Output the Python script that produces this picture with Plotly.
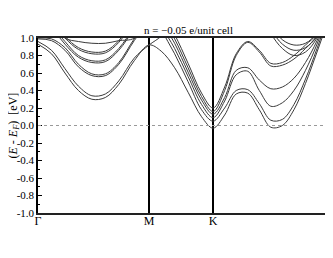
import plotly.graph_objects as go

# k-path positions (Gamma - M - K - Gamma), hexagonal BZ units
k_path = [0.0, 0.07, 0.14, 0.21, 0.28, 0.35, 0.42, 0.50, 0.577, 0.64, 0.71, 0.78, 0.85,
          0.91, 0.97, 1.03, 1.09, 1.15, 1.21, 1.27, 1.33, 1.39, 1.45, 1.51, 1.577]

sym_pos = [0.0, 0.577, 0.91]
sym_labels = ["Γ", "M", "K"]

y_ticks = [-1.0, -0.8, -0.6, -0.4, -0.2, 0.0, 0.2, 0.4, 0.6, 0.8, 1.0]
y_tick_labels = ["-1.0", "-0.8", "-0.6", "-0.4", "-0.2", "0.0", "0.2", "0.4", "0.6", "0.8", "1.0"]

# energies (eV), values > 1 are outside the window
band_1 = [0.93, 0.82, 0.60, 0.40, 0.30, 0.32, 0.47, 0.74, 0.92, 0.85, 0.66, 0.38, 0.10,
          -0.03, 0.12, 0.36, 0.37, 0.18, -0.02, 0.00, 0.18, 0.48, 0.84, 1.20, 1.50]
band_2 = [0.96, 0.86, 0.65, 0.45, 0.34, 0.36, 0.51, 0.77, 0.92, 1.02, 1.20, 1.40, 1.50,
          1.50, 1.50, 1.50, 1.50, 1.50, 1.50, 1.50, 1.50, 1.50, 1.50, 1.50, 1.50]
band_3 = [0.99, 0.97, 0.86, 0.67, 0.57, 0.57, 0.70, 0.97, 1.20, 1.40, 1.50, 1.50, 1.50,
          1.50, 1.50, 1.50, 1.50, 1.50, 1.50, 1.50, 1.50, 1.50, 1.50, 1.50, 1.50]
band_4 = [1.00, 0.99, 0.89, 0.70, 0.59, 0.59, 0.72, 0.99, 1.20, 1.40, 1.50, 1.50, 1.50,
          1.50, 1.50, 1.50, 1.50, 1.50, 1.50, 1.50, 1.50, 1.50, 1.50, 1.50, 1.50]
band_5 = [1.30, 1.12, 0.93, 0.78, 0.72, 0.73, 0.86, 1.10, 1.30, 1.50, 1.50, 1.50, 1.50,
          1.50, 1.50, 1.50, 1.50, 1.50, 1.50, 1.50, 1.50, 1.50, 1.50, 1.50, 1.50]
band_6 = [1.30, 1.14, 0.96, 0.80, 0.74, 0.75, 0.88, 1.12, 1.30, 1.50, 1.50, 1.50, 1.50,
          1.50, 1.50, 1.50, 1.50, 1.50, 1.50, 1.50, 1.50, 1.50, 1.50, 1.50, 1.50]
band_7 = [1.40, 1.20, 1.00, 0.87, 0.82, 0.83, 0.95, 1.20, 1.40, 1.50, 1.50, 1.50, 1.50,
          1.50, 1.50, 1.50, 1.50, 1.50, 1.50, 1.50, 1.50, 1.50, 1.50, 1.50, 1.50]
band_8 = [1.40, 1.22, 1.02, 0.89, 0.84, 0.85, 0.97, 1.22, 1.40, 1.50, 1.50, 1.50, 1.50,
          1.50, 1.50, 1.50, 1.50, 1.50, 1.50, 1.50, 1.50, 1.50, 1.50, 1.50, 1.50]
band_9 = [1.40, 1.20, 1.00, 0.96, 0.94, 0.94, 0.97, 1.00, 1.30, 1.50, 1.50, 1.50, 1.50,
          1.50, 1.50, 1.50, 1.50, 1.50, 1.50, 1.50, 1.50, 1.50, 1.50, 1.50, 1.50]
band_10 = [1.50, 1.50, 1.50, 1.50, 1.50, 1.50, 1.50, 1.50, 1.40, 1.10, 0.82, 0.50, 0.18,
           0.05, 0.20, 0.40, 0.41, 0.25, 0.06, 0.07, 0.24, 0.53, 0.88, 1.25, 1.60]
band_11 = [1.50, 1.50, 1.50, 1.50, 1.50, 1.50, 1.50, 1.50, 1.50, 1.15, 0.88, 0.56, 0.24,
           0.09, 0.28, 0.58, 0.62, 0.40, 0.22, 0.26, 0.40, 0.63, 0.93, 1.30, 1.70]
band_12 = [1.50, 1.50, 1.50, 1.50, 1.50, 1.50, 1.50, 1.50, 1.50, 1.20, 0.94, 0.61, 0.29,
           0.13, 0.32, 0.63, 0.66, 0.52, 0.42, 0.44, 0.54, 0.72, 0.97, 1.30, 1.70]
band_13 = [1.50, 1.50, 1.50, 1.50, 1.50, 1.50, 1.50, 1.50, 1.50, 1.25, 0.99, 0.66, 0.33,
           0.16, 0.40, 0.80, 0.95, 0.84, 0.68, 0.69, 0.76, 0.88, 1.02, 1.40, 1.70]
band_14 = [1.50, 1.50, 1.50, 1.50, 1.50, 1.50, 1.50, 1.50, 1.50, 1.30, 1.04, 0.71, 0.37,
           0.20, 0.44, 0.82, 0.96, 0.86, 0.71, 0.72, 0.80, 0.92, 1.05, 1.40, 1.70]
band_15 = [1.50, 1.50, 1.50, 1.50, 1.50, 1.50, 1.50, 1.50, 1.50, 1.50, 1.50, 1.50, 1.50,
           1.50, 1.50, 1.50, 1.40, 1.30, 1.05, 0.88, 0.80, 0.84, 1.00, 1.30, 1.50]
band_16 = [1.50, 1.50, 1.50, 1.50, 1.50, 1.50, 1.50, 1.50, 1.50, 1.50, 1.50, 1.50, 1.50,
           1.50, 1.50, 1.50, 1.45, 1.35, 1.10, 0.93, 0.86, 0.89, 1.03, 1.30, 1.50]
band_17 = [1.50, 1.50, 1.50, 1.50, 1.50, 1.50, 1.50, 1.50, 1.50, 1.50, 1.50, 1.50, 1.50,
           1.50, 1.50, 1.50, 1.50, 1.40, 1.15, 0.98, 0.92, 0.94, 1.06, 1.35, 1.50]

bands = [band_1, band_2, band_3, band_4, band_5, band_6, band_7, band_8, band_9,
         band_10, band_11, band_12, band_13, band_14, band_15, band_16, band_17]

serif = "Liberation Serif, Times New Roman, serif"

fig = go.Figure()
for b in bands:
    fig.add_trace(go.Scatter(x=k_path, y=b, mode="lines",
                             line=dict(color="#3a3a3a", width=1, shape="spline", smoothing=1.0),
                             showlegend=False, hoverinfo="skip"))

fig.add_hline(y=0, line=dict(color="#999999", width=1, dash="dot"))

# y label as a rotated annotation, centred on the plot height
fig.add_annotation(text="(<i>E</i> - <i>E</i><sub><i>F</i></sub>)  [eV]",
                   xref="paper", yref="paper", x=0, xshift=-25, y=0.5,
                   xanchor="center", yanchor="middle", textangle=-90, showarrow=False,
                   font=dict(family=serif, size=12, color="black"))

# page body adds an 8px offset, so the figure is sized to end at the window edge
fig.update_layout(
    width=325, height=242,
    margin=dict(l=30, r=0, t=30, b=37),
    paper_bgcolor="white", plot_bgcolor="white",
    font=dict(family=serif, color="black", size=11),
    title=dict(text="n = −0.05 e/unit cell", x=0.51, xref="paper", xanchor="center",
               y=1 - 22 / 242, yref="container", yanchor="middle",
               font=dict(family=serif, size=11, color="black")),
)

fig.update_xaxes(range=[0, 1.533], tickvals=sym_pos, ticktext=sym_labels, ticks="",
                 showgrid=True, gridcolor="black", gridwidth=1.5,
                 showline=True, linecolor="#222", linewidth=2, mirror=True,
                 zeroline=False, tickfont=dict(family=serif, size=12),
                 ticklabelstandoff=-4)
fig.update_yaxes(range=[-1, 1], tickvals=y_ticks, ticktext=y_tick_labels,
                 ticks="inside", ticklen=4, tickcolor="black",
                 minor=dict(dtick=0.1, ticks="inside", ticklen=2, tickcolor="black"),
                 showgrid=False, zeroline=False, showline=True, linecolor="black", linewidth=1.5,
                 tickfont=dict(family=serif, size=11), automargin=False)

fig.write_html("out.html")
